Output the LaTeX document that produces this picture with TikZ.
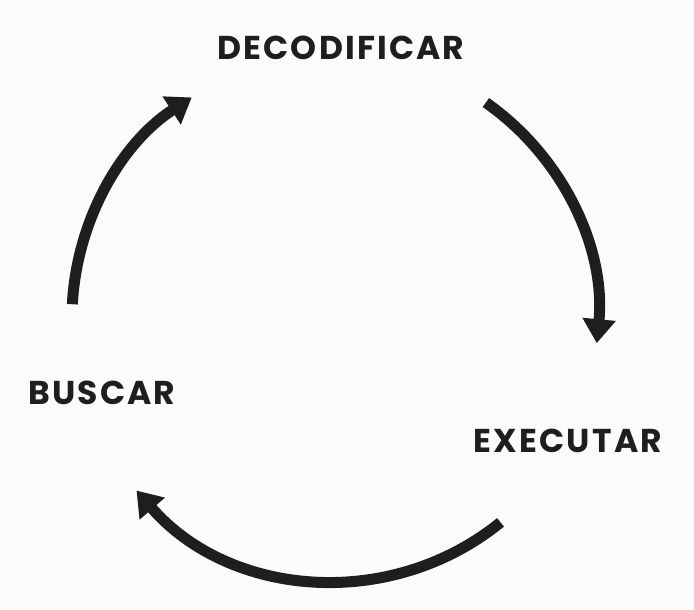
\documentclass[tikz,border=0pt]{standalone}
\usepackage{fontspec}
\setmainfont{Poppins}[BoldFont={* Bold}]
\usetikzlibrary{arrows.meta}
\definecolor{ink}{HTML}{1C1E20}
\definecolor{bg}{HTML}{FBFBFB}
\begin{document}
\begin{tikzpicture}[x=1pt,y=-1pt,
  lbl/.style={font=\bfseries\fontsize{33}{36}\selectfont\addfontfeature{LetterSpace=6.5}, text=ink, inner sep=0pt},
  cyc/.style={draw=ink, line width=11pt, -{Triangle[width=32pt,length=24pt]}}]
\fill[bg] (0,0) rectangle (694,610);
\useasboundingbox (0,0) rectangle (694,610);
\coordinate (c) at (335,318);
\node[lbl] (dec) at (341,48) {DECODIFICAR};
\node[lbl] (bus) at (102,393) {BUSCAR};
\node[lbl] (exe) at (568,441) {EXECUTAR};
\draw[cyc] ([shift={(-177:263)}]c) arc[start angle=-177, end angle=-123, radius=263];
\draw[cyc] ([shift={(-55:263)}]c) arc[start angle=-55, end angle=5.5, radius=263];
\draw[cyc] ([shift={(51:263)}]c) arc[start angle=51, end angle=139, radius=263];
\end{tikzpicture}
\end{document}
